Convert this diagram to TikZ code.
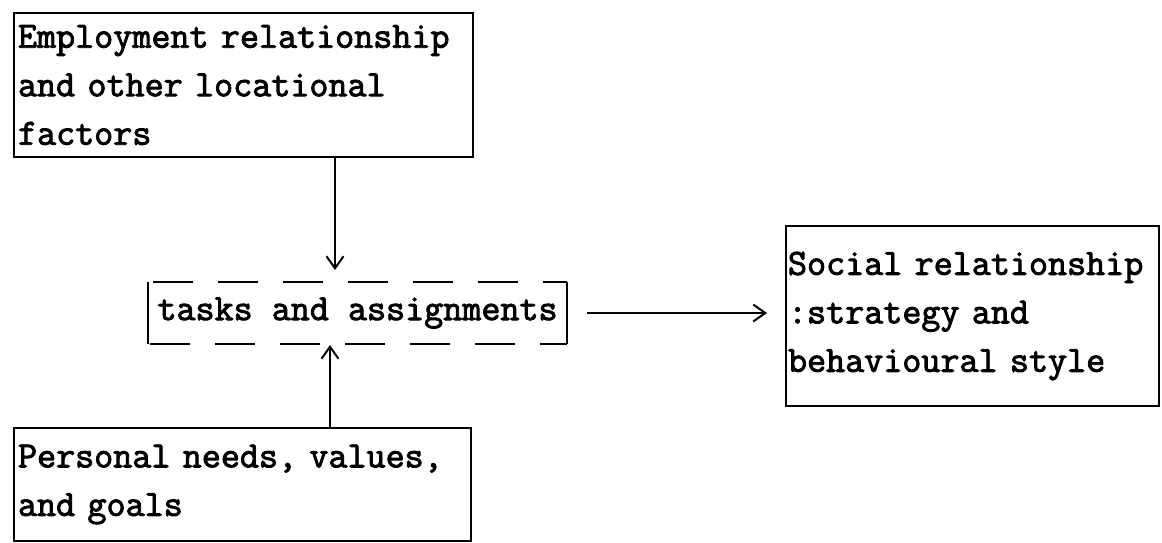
\documentclass[tikz,border=0pt]{standalone}
\usepackage{fontspec}
\usepackage{tikz}
\usetikzlibrary{arrows.meta, positioning}
\newfontfamily\typer[FakeBold=2.4]{Latin Modern Mono}
\newcommand\typewriting{\typer\fontsize{37}{48.5}\selectfont}

\begin{document}
\begin{tikzpicture}[
    x=1pt, y=-1pt,
    font=\typewriting,
    box/.style={rectangle, draw, line width=2pt, anchor=north west, inner xsep=4pt, align=left},
    dashline/.style={line width=2pt, dash pattern=on 40pt off 25pt},
    arrow/.style={-{Straight Barb[length=12pt, width=17pt, line width=2pt]}, line width=2pt}
]
    \useasboundingbox (0,0) rectangle (1162,542);

    \node[box, minimum width=459pt, minimum height=144pt, text width=451pt] (emp) at (13,12)
        {Employment relationship\\and other locational\\factors};
    \node[box, draw=none, minimum width=417pt, minimum height=60pt] (tasks) at (148,282)
        {tasks and assignments};
    \node[box, minimum width=457pt, minimum height=113pt, text width=449pt] (pers) at (13,427)
        {Personal needs, values,\\and goals};
    \node[box, inner xsep=2pt, minimum width=373pt, minimum height=180pt, text width=369pt] (social) at (785,225)
        {Social relationship\\:strategy and\\behavioural style};

    % dashed frame of the middle box
    \draw[dashline] ([xshift=5pt]tasks.north west) -- (tasks.north east);
    \draw[dashline] ([xshift=2pt]tasks.south west) -- (tasks.south east);
    \draw[line width=2pt] (tasks.north west) -- (tasks.south west);
    \draw[line width=2pt] (tasks.north east) -- (tasks.south east);

    \coordinate (downx) at (335,0);
    \coordinate (upx) at (330,0);

    \draw[arrow, shorten >=12pt] (emp.south -| downx) -- (tasks.north -| downx);
    \draw[arrow, shorten >=1pt] (pers.north -| upx) -- (tasks.south -| upx);
    \draw[arrow, shorten <=20pt, shorten >=18pt] (tasks.east) -- (tasks.east -| social.west);
\end{tikzpicture}
\end{document}
